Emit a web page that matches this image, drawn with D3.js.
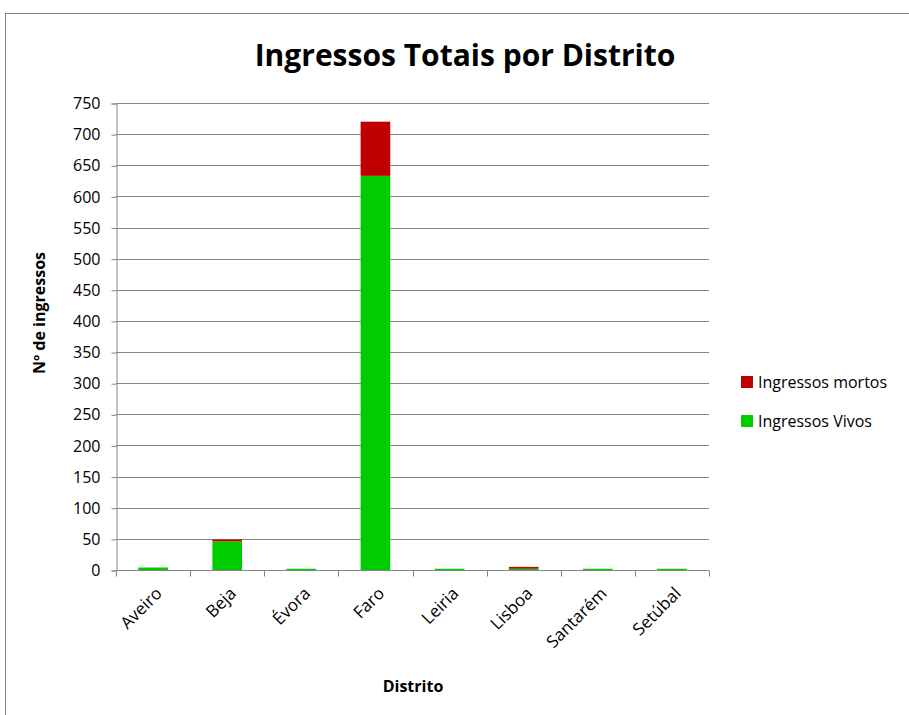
<!DOCTYPE html>
<html><head><meta charset="utf-8">
<script src="https://cdn.jsdelivr.net/npm/d3@7"></script>
<style>body{margin:0;background:#fff}svg{display:block}text{font-family:"Open Sans","Liberation Sans",sans-serif}</style>
</head><body>
<script>
const categories = ["Aveiro","Beja","Évora","Faro","Leiria","Lisboa","Santarém","Setúbal"];
const vivos = [4, 46, 2, 633, 2, 2, 2, 2];
const mortos = [0, 3, 0, 87, 0, 3, 0, 0];
const seriesNames = ["Ingressos mortos","Ingressos Vivos"];
const yTicks = d3.range(0, 751, 50);

const W = 909, H = 715;
const svg = d3.select("body").append("svg").attr("width", W).attr("height", H);
svg.append("rect").attr("x",5.5).attr("y",13.5).attr("width",W).attr("height",H).attr("fill","#fff").attr("stroke","#868686").attr("stroke-width",1);

const x0 = 116, x1 = 709, y0 = 570, y1 = 103;
const x = d3.scaleBand().domain(categories).range([x0, x1]).paddingInner(0.6).paddingOuter(0.3);
const y = d3.scaleLinear().domain([0, 750]).range([y0, y1]);

// gridlines
svg.append("g").selectAll("line").data(yTicks.slice(1)).join("line")
  .attr("x1", x0).attr("x2", x1).attr("y1", d => Math.round(y(d))+0.5).attr("y2", d => Math.round(y(d))+0.5)
  .attr("stroke", "#868686").attr("stroke-width", 1);

// y axis
const ya = svg.append("g").attr("transform", `translate(${x0+0.5},0.5)`)
  .call(d3.axisLeft(y).tickValues(yTicks).tickSize(5).tickPadding(11));
ya.select(".domain").attr("stroke", "#868686");
ya.selectAll(".tick line").attr("stroke", "#868686");
ya.selectAll("text").attr("font-size", 16).attr("fill", "#000");

// x axis
const xa = svg.append("g").attr("transform", `translate(0,${y0+0.5})`);
xa.append("line").attr("x1", x0).attr("x2", x1).attr("stroke", "#868686");
const step = (x1 - x0) / categories.length;
xa.selectAll("line.t").data(d3.range(categories.length + 1)).join("line").attr("class","t")
  .attr("x1", i => Math.round(x0 + i*step)+0.5).attr("x2", i => Math.round(x0 + i*step)+0.5)
  .attr("y1", 0).attr("y2", 6).attr("stroke", "#868686");
xa.selectAll("text").data(categories).join("text")
  .attr("transform", d => `translate(${x(d) + x.bandwidth()/2 + 10},${24}) rotate(-45)`)
  .attr("text-anchor", "end").attr("font-size", 17).attr("fill", "#000").text(d => d);

// bars
const g = svg.append("g");
g.selectAll("rect.v").data(categories).join("rect").attr("class","v")
  .attr("x", d => x(d)).attr("width", x.bandwidth())
  .attr("y", (d,i) => y(vivos[i])).attr("height", (d,i) => y0 - y(vivos[i]))
  .attr("fill", "#00CC00");
g.selectAll("rect.m").data(categories).join("rect").attr("class","m")
  .attr("x", d => x(d)).attr("width", x.bandwidth())
  .attr("y", (d,i) => y(vivos[i] + mortos[i])).attr("height", (d,i) => y(vivos[i]) - y(vivos[i] + mortos[i]))
  .attr("fill", "#C00000");

// title
svg.append("text").attr("x", 465).attr("y", 66).attr("text-anchor","middle")
  .attr("font-size", 30).attr("font-weight","bold").attr("fill","#000").text("Ingressos Totais por Distrito");
// axis titles
svg.append("text").attr("transform", `translate(45,313) rotate(-90)`).attr("text-anchor","middle")
  .attr("font-size", 16).attr("font-weight","bold").attr("fill","#000").text("Nº de ingressos");
svg.append("text").attr("x", 413).attr("y", 692).attr("text-anchor","middle")
  .attr("font-size", 16).attr("font-weight","bold").attr("fill","#000").text("Distrito");

// legend
const colors = ["#C00000","#00CC00"];
const lg = svg.append("g");
seriesNames.forEach((s,i) => {
  const ly = 382 + i*39;
  lg.append("rect").attr("x", 741).attr("y", ly-6).attr("width", 12).attr("height", 12).attr("fill", colors[i]);
  lg.append("text").attr("x", 758).attr("y", ly).attr("dy","0.35em").attr("font-size", 16).attr("fill","#000").text(s);
});
</script>
</body></html>
